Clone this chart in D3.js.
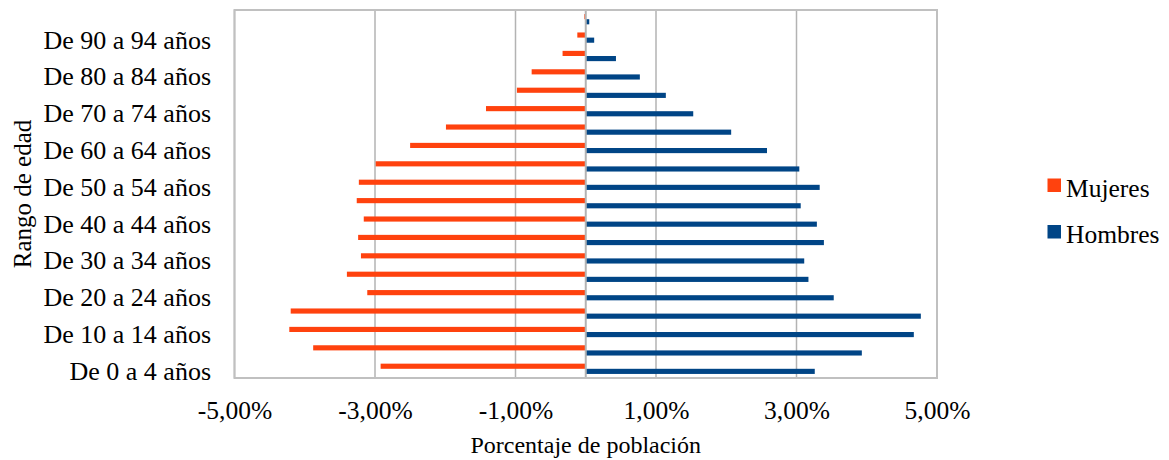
<!DOCTYPE html>
<html>
<head>
<meta charset="utf-8">
<script src="https://cdn.jsdelivr.net/npm/d3@7"></script>
<style>
  html, body { margin: 0; padding: 0; background: #ffffff; }
  svg { display: block; }
</style>
</head>
<body>
<svg id="chart" width="1169" height="460"></svg>
<script>
// ---- Data ----
const categories = [
  "De 0 a 4 años", "De 5 a 9 años", "De 10 a 14 años", "De 15 a 19 años",
  "De 20 a 24 años", "De 25 a 29 años", "De 30 a 34 años", "De 35 a 39 años",
  "De 40 a 44 años", "De 45 a 49 años", "De 50 a 54 años", "De 55 a 59 años",
  "De 60 a 64 años", "De 65 a 69 años", "De 70 a 74 años", "De 75 a 79 años",
  "De 80 a 84 años", "De 85 a 89 años", "De 90 a 94 años", "De 95 y más años"
];
// Percent of population (Mujeres plotted to the left, as negative values)
const mujeres = [
  -2.92, -3.88, -4.22, -4.20, -3.11, -3.40, -3.20, -3.24, -3.16, -3.26,
  -3.23, -2.99, -2.50, -1.99, -1.42, -0.98, -0.77, -0.33, -0.12, -0.02
];
const hombres = [
  3.26, 3.93, 4.67, 4.77, 3.53, 3.17, 3.11, 3.39, 3.29, 3.06,
  3.33, 3.04, 2.58, 2.07, 1.53, 1.14, 0.77, 0.43, 0.12, 0.05
];
const seriesNames = ["Mujeres", "Hombres"];
const seriesColors = ["#ff420e", "#004586"];
const xTickValues = [-5, -3, -1, 1, 3, 5];
const xDomain = [-5, 5];
const xTitle = "Porcentaje de población";
const yTitle = "Rango de edad";

// ---- Layout ----
const FONT = '"Liberation Serif", "Times New Roman", Times, serif';
const plot = { left: 234.5, right: 937, top: 10, bottom: 378 };
const svg = d3.select("#chart");

const x = d3.scaleLinear().domain(xDomain).range([plot.left, plot.right]);
const y = d3.scaleBand()
  .domain(categories.slice().reverse())
  .range([plot.top, plot.bottom])
  .padding(0);
const ySub = d3.scaleBand()
  .domain(seriesNames)
  .range([0, y.bandwidth()])
  .paddingInner(0)
  .paddingOuter(0.79);

const locale = d3.formatLocale({ decimal: ",", thousands: ".", grouping: [3], currency: ["", "€"], minus: "-", percent: "%" });
const fmt = v => locale.format(".2f")(v) + "%";

// Gridlines
svg.append("g").selectAll("line")
  .data(xTickValues)
  .join("line")
  .attr("x1", d => x(d)).attr("x2", d => x(d))
  .attr("y1", plot.top).attr("y2", plot.bottom)
  .attr("stroke", "#b3b3b3")
  .attr("stroke-width", 1.5);

// Bars
const seriesData = [mujeres, hombres];
seriesData.forEach((vals, si) => {
  svg.append("g").selectAll("rect")
    .data(vals.map((v, i) => ({ v, cat: categories[i] })))
    .join("rect")
    .attr("x", d => Math.min(x(0), x(d.v)))
    .attr("width", d => Math.abs(x(d.v) - x(0)))
    .attr("y", d => y(d.cat) + ySub(seriesNames[si]))
    .attr("height", ySub.bandwidth())
    .attr("fill", seriesColors[si]);
});

// Zero axis line
svg.append("line")
  .attr("x1", x(0)).attr("x2", x(0))
  .attr("y1", plot.top).attr("y2", plot.bottom)
  .attr("stroke", "#b3b3b3")
  .attr("stroke-width", 2);

// Plot border
svg.append("rect")
  .attr("x", plot.left).attr("y", plot.top)
  .attr("width", plot.right - plot.left)
  .attr("height", plot.bottom - plot.top)
  .attr("fill", "none")
  .attr("stroke", "#c0c0c0")
  .attr("stroke-width", 2);

// X axis (labels only)
const xAxis = d3.axisBottom(x).tickValues(xTickValues).tickFormat(fmt).tickSize(0).tickPadding(0);
const gx = svg.append("g").attr("transform", `translate(0,${plot.bottom})`).call(xAxis);
gx.select(".domain").remove();
gx.selectAll("text")
  .attr("y", 41)
  .attr("dy", 0)
  .style("font-family", FONT)
  .style("font-size", "25.5px")
  .attr("fill", "#000");

// Y axis (every other category label)
const yAxis = d3.axisLeft(y)
  .tickValues(categories.filter((c, i) => i % 2 === 0))
  .tickSize(0).tickPadding(0);
const gy = svg.append("g").attr("transform", `translate(211,0)`).call(yAxis);
gy.select(".domain").remove();
gy.selectAll("text")
  .attr("x", 0)
  .attr("dy", "0.42em")
  .style("font-family", FONT)
  .style("font-size", "26px")
  .attr("fill", "#000");

// Axis titles
svg.append("text")
  .attr("x", (plot.left + plot.right) / 2)
  .attr("y", 453)
  .attr("text-anchor", "middle")
  .style("font-family", FONT)
  .style("font-size", "24px")
  .attr("fill", "#000")
  .text(xTitle);

svg.append("text")
  .attr("transform", `translate(31,${(plot.top + plot.bottom) / 2}) rotate(-90)`)
  .attr("text-anchor", "middle")
  .style("font-family", FONT)
  .style("font-size", "25px")
  .attr("fill", "#000")
  .text(yTitle);

// Legend
const legendY = [178.5, 225];
const legend = svg.append("g");
seriesNames.forEach((name, i) => {
  legend.append("rect")
    .attr("x", 1047.5).attr("y", legendY[i])
    .attr("width", 13.5).attr("height", 13.5)
    .attr("fill", seriesColors[i]);
  legend.append("text")
    .attr("x", 1066)
    .attr("y", legendY[i] + 18)
    .style("font-family", FONT)
    .style("font-size", "25.5px")
    .attr("fill", "#000")
    .text(name);
});
</script>
</body>
</html>
